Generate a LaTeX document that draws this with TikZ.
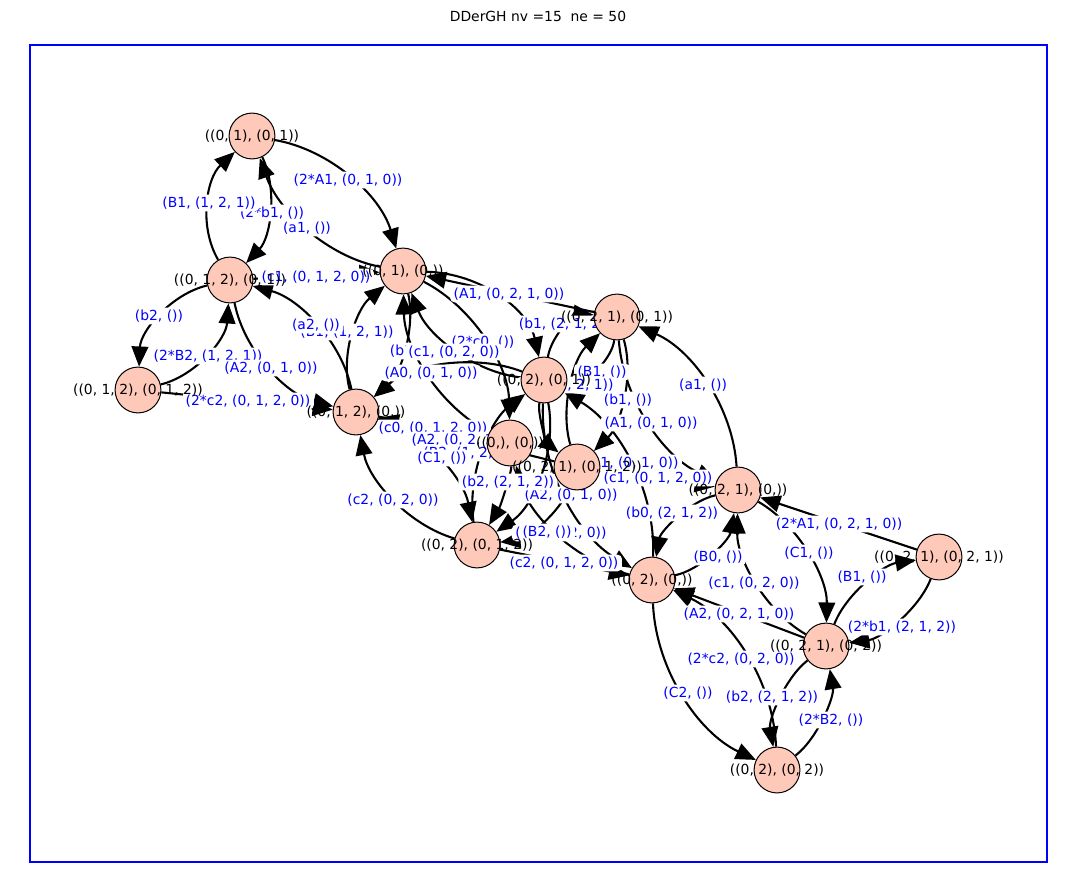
\documentclass[tikz,border=0pt]{standalone}
\usepackage{fontspec}
\setmainfont{DejaVu Sans}
\usetikzlibrary{calc,arrows.meta}
\pgfdeclarelayer{edgelayer}
\pgfdeclarelayer{labellayer}
\pgfsetlayers{edgelayer,labellayer,main}
\definecolor{nodefill}{RGB}{255,201,186}
\newcommand\edg[3]{\draw[arr] (#1) .. controls ($(#3)!-0.3333!(#2)$) and ($(#3)!-0.3333!(#1)$) .. (#2);}
\begin{document}
\begin{tikzpicture}[x=0.72pt,y=-0.72pt,
  vert/.style={circle,draw=black,line width=0.72pt,fill=nodefill,minimum size=33pt,inner sep=0pt},
  vlab/.style={font=\fontsize{10}{12}\selectfont,text=black,inner sep=0pt},
  elab/.style={font=\fontsize{10}{12}\selectfont,text=blue,fill=white,rounded corners=3pt,inner xsep=2.5pt,inner ysep=1.5pt},
  arr/.style={draw=black,line width=1.5pt,-{Triangle[length=14.5pt,width=12pt]}},
  frame/.style={draw=blue,line width=0.8pt}]
\useasboundingbox (0,0) rectangle (1077,889);
\draw[frame] (30,45) rectangle (1047,862);
\node[vlab] (title) at (538,16) {DDerGH nv =15\ \ ne = 50};
% vertices
\node[vert] (nA) at (252,136) {};
\node[vert] (nB) at (230,280) {};
\node[vert] (nC) at (138,390) {};
\node[vert] (nD) at (403,271) {};
\node[vert] (nE) at (356,412) {};
\node[vert] (nF) at (617,317) {};
\node[vert] (nG) at (544,380) {};
\node[vert] (nH) at (510,443) {};
\node[vert] (nI) at (577,467) {};
\node[vert] (nJ) at (477,545) {};
\node[vert] (nK) at (738,490) {};
\node[vert] (nL) at (652,580) {};
\node[vert] (nM) at (939,557) {};
\node[vert] (nN) at (826,646) {};
\node[vert] (nO) at (777,770) {};
\node[vlab] (tA) at (nA) {((0, 1), (0, 1))};
\node[vlab] (tB) at (nB) {((0, 1, 2), (0, 1))};
\node[vlab] (tC) at (nC) {((0, 1, 2), (0, 1, 2))};
\node[vlab] (tD) at (nD) {((0, 1), (0,))};
\node[vlab] (tE) at (nE) {((0, 1, 2), (0,))};
\node[vlab] (tF) at (nF) {((0, 2, 1), (0, 1))};
\node[vlab] (tG) at (nG) {((0, 2), (0, 1))};
\node[vlab] (tH) at (nH) {((0,), (0,))};
\node[vlab] (tI) at (nI) {((0, 2, 1), (0, 1, 2))};
\node[vlab] (tJ) at (nJ) {((0, 2), (0, 1, 2))};
\node[vlab] (tK) at (nK) {((0, 2, 1), (0,))};
\node[vlab] (tL) at (nL) {((0, 2), (0,))};
\node[vlab] (tM) at (nM) {((0, 2, 1), (0, 2, 1))};
\node[vlab] (tN) at (nN) {((0, 2, 1), (0, 2))};
\node[vlab] (tO) at (nO) {((0, 2), (0, 2))};
% edges
\begin{pgfonlayer}{edgelayer}
\edg{nA}{nD}{348,180}
\edg{nD}{nA}{310,227}
\edg{nB}{nA}{212,204}
\edg{nA}{nB}{266,212}
\edg{nB}{nC}{163,318}
\edg{nC}{nB}{204,352}
\edg{nB}{nE}{272,366}
\edg{nE}{nB}{314,327}
\edg{nC}{nE}{247,401}
\edg{nB}{nD}{316.5,275.5}
\edg{nE}{nD}{356,335}
\edg{nD}{nE}{401,349}
\edg{nF}{nD}{510,294}
\edg{nD}{nH}{482,341}
\edg{nH}{nD}{431,373}
\edg{nG}{nD}{457,347}
\edg{nG}{nF}{568,330}
\edg{nF}{nG}{595,364}
\edg{nF}{nI}{620,398}
\edg{nI}{nF}{574,386}
\edg{nF}{nK}{652,422}
\edg{nK}{nF}{704,385}
\edg{nM}{nK}{838.5,523.5}
\edg{nK}{nN}{805,555}
\edg{nN}{nK}{759,581}
\edg{nN}{nM}{869,585}
\edg{nM}{nN}{896,618}
\edg{nL}{nK}{710,550}
\edg{nK}{nL}{680,521}
\edg{nN}{nL}{739,613}
\edg{nL}{nO}{686,694}
\edg{nO}{nL}{743,656}
\edg{nN}{nO}{783,701}
\edg{nO}{nN}{820,715}
\edg{nE}{nH}{433,427.5}
\edg{nI}{nE}{466.5,439.5}
\edg{nE}{nJ}{436,460}
\edg{nJ}{nE}{396,497}
\edg{nJ}{nG}{486,452}
\edg{nG}{nJ}{537,474}
\edg{nI}{nK}{657.5,478.5}
\edg{nJ}{nL}{564.5,562.5}
\edg{nI}{nJ}{539,521}
\edg{nG}{nL}{568,496}
\edg{nL}{nH}{560,532}
\edg{nL}{nG}{628,464}
\edg{nD}{nG}{497,300}
\edg{nG}{nI}{547,428}
\edg{nH}{nJ}{503,490}
\edg{nG}{nE}{445,368}
\end{pgfonlayer}
% edge labels
\begin{pgfonlayer}{labellayer}
\node[elab] (l2) at (307,228) {(a1, ())};
\node[elab] (l4) at (272,213) {(2*b1, ())};
\node[elab] (l3) at (209,203) {(B1, (1, 2, 1))};
\node[elab] (l1) at (348,180) {(2*A1, (0, 1, 0))};
\node[elab] (l10) at (316,277) {(c1, (0, 1, 2, 0))};
\node[elab] (l5) at (159,316) {(b2, ())};
\node[elab] (l6) at (208,356) {(2*B2, (1, 2, 1))};
\node[elab] (l7) at (271,368) {(A2, (0, 1, 0))};
\node[elab] (l9) at (248,401) {(2*c2, (0, 1, 2, 0))};
\node[elab] (l11) at (347,332) {(B1, (1, 2, 1))};
\node[elab] (l8) at (316,325) {(a2, ())};
\node[elab] (l12) at (414,351) {(b1, ())};
\node[elab] (l14) at (483,342) {(2*c0, ())};
\node[elab] (l16) at (454,352) {(c1, (0, 2, 0))};
\node[elab] (l15) at (431,373) {(A0, (0, 1, 0))};
\node[elab] (l13) at (509,294) {(A1, (0, 2, 1, 0))};
\node[elab] (l17) at (565,324) {(b1, (2, 1, 2))};
\node[elab] (l18) at (602,372) {(B1, ())};
\node[elab] (l19) at (628,400) {(b1, ())};
\node[elab] (l20) at (567,385) {(B1, (1, 2, 1))};
\node[elab] (l21) at (651,423) {(A1, (0, 1, 0))};
\node[elab] (l22) at (703,385) {(a1, ())};
\node[elab] (l35) at (433,428) {(c0, (0, 1, 2, 0))};
\node[elab] (l36) at (467,440) {(A2, (0, 2, 1, 0))};
\node[elab] (l39) at (470,453) {(B2, (1, 2, 1))};
\node[elab] (l37) at (442,458) {(C1, ())};
\node[elab] (l44) at (571,495) {(A2, (0, 1, 0))};
\node[elab] (l49) at (508,482) {(b2, (2, 1, 2))};
\node[elab] (l38) at (393,500) {(c2, (0, 2, 0))};
\node[elab] (l45) at (561,533) {(c0, (0, 2, 0))};
\node[elab] (l43) at (547,532) {(B2, ())};
\node[elab] (l42) at (564,563) {(c2, (0, 1, 2, 0))};
\node[elab] (l46) at (632,463) {(A1, (0, 1, 0))};
\node[elab] (l41) at (658,478) {(c1, (0, 1, 2, 0))};
\node[elab] (l29) at (672,513) {(b0, (2, 1, 2))};
\node[elab] (l23) at (839,524) {(2*A1, (0, 2, 1, 0))};
\node[elab] (l24) at (809,553) {(C1, ())};
\node[elab] (l26) at (862,577) {(B1, ())};
\node[elab] (l28) at (718,557) {(B0, ())};
\node[elab] (l25) at (754,583) {(c1, (0, 2, 0))};
\node[elab] (l30) at (739,614) {(A2, (0, 2, 1, 0))};
\node[elab] (l27) at (902,627) {(2*b1, (2, 1, 2))};
\node[elab] (l32) at (741,659) {(2*c2, (0, 2, 0))};
\node[elab] (l31) at (688,693) {(C2, ())};
\node[elab] (l33) at (772,697) {(b2, (2, 1, 2))};
\node[elab] (l34) at (831,720) {(2*B2, ())};
\end{pgfonlayer}
\end{tikzpicture}
\end{document}
